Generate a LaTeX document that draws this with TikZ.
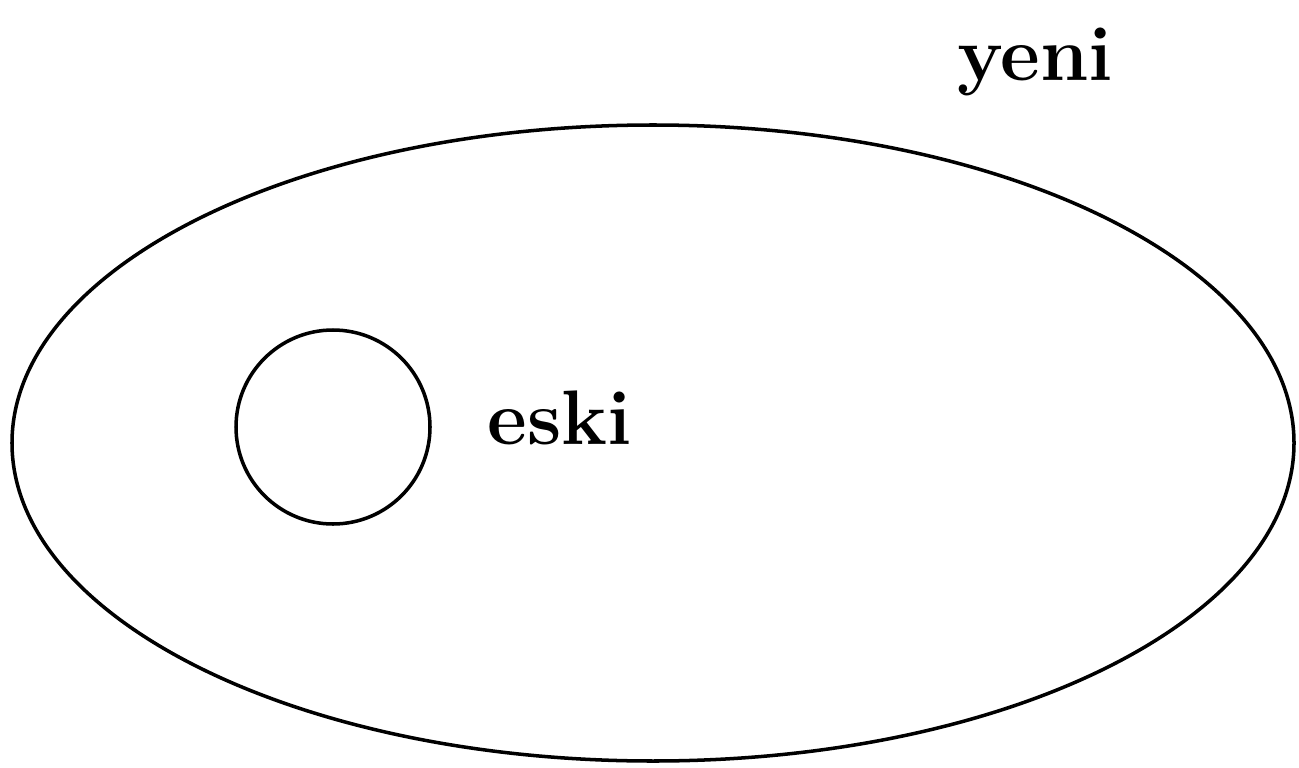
\documentclass[tikz,border=0pt]{standalone}
\usepackage{tikz}
\usetikzlibrary{positioning}

\begin{document}
\begin{tikzpicture}[
  every node/.style={font=\fontsize{22}{26}\selectfont\bfseries},
  setline/.style={draw, line width=1pt},
]
\useasboundingbox (0,0) rectangle (12.99,-7.68);

% outer set and inner set
\draw[setline] (6.53,-4.43) ellipse [x radius=6.41, y radius=3.18];
\draw[setline] (3.33,-4.27) circle [radius=0.97];

\node (yeni) at (10.35,-0.62) {yeni};
\node (eski) at (5.60,-4.18) {eski};
\end{tikzpicture}
\end{document}
